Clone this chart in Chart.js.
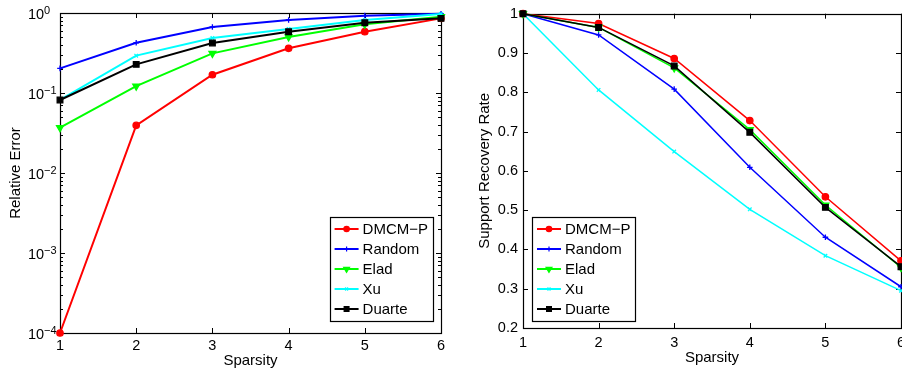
<!DOCTYPE html>
<html>
<head>
<meta charset="utf-8">
<script src="https://cdn.jsdelivr.net/npm/chart.js@4/dist/chart.umd.min.js"></script>
<style>
  html, body { margin: 0; padding: 0; background: #fff; overflow: hidden; }
  #wrap { position: relative; width: 902px; height: 374px; overflow: hidden; }
  .box { position: absolute; top: 0; width: 460px; height: 374px; }
  #left { left: 0; }
  #right { left: 460px; }
</style>
</head>
<body>
<div id="wrap">
  <div class="box" id="left"><canvas id="errChart"></canvas></div>
  <div class="box" id="right"><canvas id="rateChart"></canvas></div>
</div>
<script>
const sparsity = [1, 2, 3, 4, 5, 6];
const methods = ["DMCM−P", "Random", "Elad", "Xu", "Duarte"];

// relative error (log axis)
const errDMCM = [0.0001, 0.0394, 0.169, 0.362, 0.584, 0.857];
const errRandom = [0.203, 0.425, 0.668, 0.818, 0.926, 0.98];
const errElad = [0.0368, 0.122, 0.313, 0.501, 0.722, 0.9];
const errXu = [0.082, 0.293, 0.487, 0.63, 0.818, 0.97];
const errDuarte = [0.0818, 0.228, 0.422, 0.584, 0.757, 0.857];

// support recovery rate
const rateDMCM = [1, 0.975, 0.886, 0.728, 0.534, 0.371];
const rateRandom = [1, 0.946, 0.808, 0.609, 0.431, 0.305];
const rateElad = [1, 0.965, 0.862, 0.705, 0.513, 0.354];
const rateXu = [1, 0.806, 0.649, 0.502, 0.384, 0.295];
const rateDuarte = [1, 0.965, 0.867, 0.698, 0.507, 0.356];

const rateTicks = [0.2, 0.3, 0.4, 0.5, 0.6, 0.7, 0.8, 0.9, 1];

const colors = ["#ff0000", "#0000ff", "#00ff00", "#00ffff", "#000000"];
const markers = ["circle", "cross", "triangle", "crossRot", "rect"];
const markerSize = [3.2, 2.8, 4, 2.5, 4];
const markerRot = [0, 0, 180, 0, 0];

const FONT = "'Liberation Sans', Arial, Helvetica, sans-serif";

function makeSets(series, width) {
  return series.map((vals, i) => ({
    label: methods[i],
    data: sparsity.map((s, k) => ({ x: s, y: vals[k] })),
    borderColor: colors[i],
    backgroundColor: colors[i],
    borderWidth: width,
    pointStyle: markers[i],
    pointRadius: markerSize[i],
    pointHoverRadius: markerSize[i],
    pointRotation: markerRot[i],
    pointBorderWidth: 1.3,
    order: 5 - i,
    clip: false,
    tension: 0
  }));
}

// box around the plot, MATLAB style inward ticks
const frame = {
  id: "frame",
  beforeDatasetsDraw(chart) {
    const { ctx, chartArea: a, scales: { x, y } } = chart;
    ctx.save();
    ctx.strokeStyle = "#000";
    ctx.lineWidth = 1;
    ctx.beginPath();
    sparsity.forEach(v => {
      const px = Math.round(x.getPixelForValue(v)) + 0.5;
      ctx.moveTo(px, a.bottom); ctx.lineTo(px, a.bottom - 5);
      ctx.moveTo(px, a.top); ctx.lineTo(px, a.top + 5);
    });
    const yTick = (v, len) => {
      const py = Math.round(y.getPixelForValue(v)) + 0.5;
      ctx.moveTo(a.left, py); ctx.lineTo(a.left + len, py);
      ctx.moveTo(a.right, py); ctx.lineTo(a.right - len, py);
    };
    if (y.type === "logarithmic") {
      for (let d = -4; d <= 0; d++) {
        yTick(Math.pow(10, d), 5);
        if (d < 0) for (let m = 2; m <= 9; m++) yTick(m * Math.pow(10, d), 3);
      }
    } else {
      rateTicks.forEach(v => yTick(v, 5));
    }
    ctx.stroke();
    ctx.lineWidth = 1.2;
    ctx.strokeRect(Math.round(a.left) + 0.5, Math.round(a.top) + 0.5,
      Math.round(a.right - a.left), Math.round(a.bottom - a.top));
    ctx.restore();
  }
};

// 10^k labels for the log axis
const powLabels = {
  id: "powLabels",
  afterDraw(chart) {
    const { ctx, scales: { y } } = chart;
    if (y.type !== "logarithmic") return;
    ctx.save();
    ctx.fillStyle = "#000";
    for (let d = -4; d <= 0; d++) {
      const py = y.getPixelForValue(Math.pow(10, d));
      ctx.textAlign = "left";
      ctx.textBaseline = "middle";
      ctx.font = "14.5px " + FONT;
      ctx.fillText("10", 28, py + 2);
      ctx.font = "11px " + FONT;
      ctx.fillText(d === 0 ? "0" : "−" + (-d), 44, py - 2);
    }
    ctx.restore();
  }
};

function boxLegend(place) {
  return {
    id: "boxLegend",
    afterDraw(chart) {
      const { ctx, chartArea: a } = chart;
      ctx.save();
      ctx.font = "15px " + FONT;
      const tw = Math.max(...methods.map(m => ctx.measureText(m).width));
      const bw = 5 + 24 + 4 + tw + 5;
      const bh = 104;
      const bx = place.right != null ? a.right - place.right - bw : a.left + place.left;
      const by = a.bottom - place.bottom - bh;
      ctx.fillStyle = "#fff";
      ctx.fillRect(bx, by, bw, bh);
      ctx.strokeStyle = "#000";
      ctx.lineWidth = 1.2;
      ctx.strokeRect(Math.round(bx) + 0.5, Math.round(by) + 0.5, Math.round(bw), bh);
      methods.forEach((m, i) => {
        const cy = by + 12 + i * 20;
        ctx.strokeStyle = colors[i];
        ctx.fillStyle = colors[i];
        ctx.lineWidth = 2;
        ctx.beginPath();
        ctx.moveTo(bx + 5, cy); ctx.lineTo(bx + 29, cy);
        ctx.stroke();
        ctx.lineWidth = 1.2;
        Chart.helpers.drawPoint(ctx, {
          pointStyle: markers[i], radius: markerSize[i] * 0.85,
          rotation: markerRot[i], borderWidth: 1.2
        }, bx + 17, cy);
        ctx.fillStyle = "#000";
        ctx.textAlign = "left";
        ctx.textBaseline = "middle";
        ctx.fillText(m, bx + 33, cy + 1);
      });
      ctx.restore();
    }
  };
}

function xAxis(height, pad, titlePad) {
  return {
    type: "linear", min: 1, max: 6,
    afterFit: s => { s.height = height; },
    grid: { display: false, drawTicks: false },
    border: { display: false },
    ticks: { stepSize: 1, autoSkip: false, padding: pad, color: "#000",
      font: { family: FONT, size: 14.5 } },
    title: { display: true, text: "Sparsity", color: "#000",
      padding: { top: 0, bottom: titlePad }, font: { family: FONT, size: 15 } }
  };
}

new Chart(document.getElementById("errChart"), {
  type: "line",
  data: { datasets: makeSets([errDMCM, errRandom, errElad, errXu, errDuarte], 2) },
  options: {
    responsive: true, maintainAspectRatio: false, animation: false,
    layout: { padding: { top: 13, right: 19, left: 0, bottom: 0 } },
    plugins: { legend: { display: false }, tooltip: { enabled: false } },
    scales: {
      x: xAxis(41, 4, 4),
      y: {
        type: "logarithmic", min: 0.0001, max: 1,
        afterFit: s => { s.width = 60; },
        grid: { display: false, drawTicks: false },
        border: { display: false },
        ticks: { display: false },
        title: { display: true, text: "Relative Error", color: "#000",
          padding: { top: 7, bottom: 0 }, font: { family: FONT, size: 15 } }
      }
    }
  },
  plugins: [frame, powLabels, boxLegend({ right: 8, bottom: 12 })]
});

new Chart(document.getElementById("rateChart"), {
  type: "line",
  data: { datasets: makeSets([rateDMCM, rateRandom, rateElad, rateXu, rateDuarte], 1.5) },
  options: {
    responsive: true, maintainAspectRatio: false, animation: false,
    layout: { padding: { top: 13, right: 19, left: 0, bottom: 0 } },
    plugins: { legend: { display: false }, tooltip: { enabled: false } },
    scales: {
      x: xAxis(46, 6, 7),
      y: {
        type: "linear", min: 0.2, max: 1,
        afterFit: s => { s.width = 63; },
        afterBuildTicks: s => { s.ticks = rateTicks.map(v => ({ value: v })); },
        grid: { display: false, drawTicks: false },
        border: { display: false },
        ticks: { padding: 5, color: "#000", font: { family: FONT, size: 14.5 },
          callback: v => String(+v.toFixed(1)) },
        title: { display: true, text: "Support Recovery Rate", color: "#000",
          padding: { top: 16, bottom: 0 }, font: { family: FONT, size: 15 } }
      }
    }
  },
  plugins: [frame, boxLegend({ left: 9, bottom: 7 })]
});
</script>
</body>
</html>
